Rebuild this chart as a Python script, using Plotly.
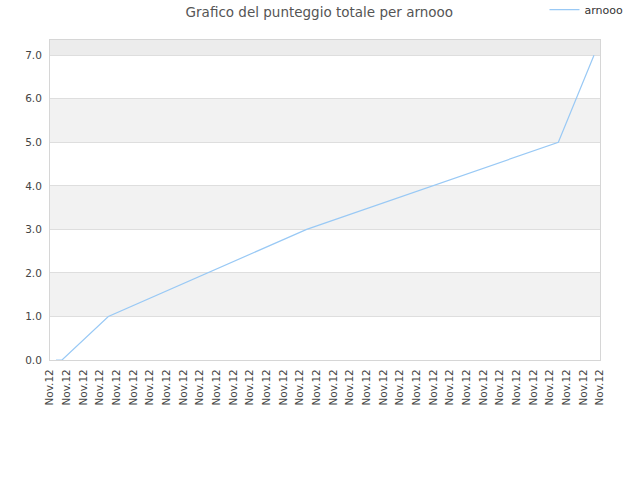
import plotly.graph_objects as go

# Category labels along the x axis
tick_labels = ["Nov.12"] * 34

# Series: positions along the category axis (in label-index units) and cumulative score
x_pos = [0.36, 0.72, 3.5, 15.4, 30.5, 32.64]
score = [0.0, 0.0, 1.0, 3.0, 5.0, 7.0]
series_name = "arnooo"

fig = go.Figure()
fig.add_trace(go.Scatter(
    x=x_pos, y=score, mode="lines", name=series_name,
    line=dict(color="#99c9f5", width=1.2),
    showlegend=True,
))

# alternating background bands
shapes = []
for lo in [1, 3, 5]:
    shapes.append(dict(type="rect", xref="paper", yref="y", x0=0, x1=1, y0=lo, y1=lo + 1,
                       fillcolor="#f2f2f2", line=dict(width=0), layer="below"))
shapes.append(dict(type="rect", xref="paper", yref="y", x0=0, x1=1, y0=7, y1=7.35,
                   fillcolor="#ececec", line=dict(width=0), layer="below"))

fig.update_layout(
    width=640, height=480,
    margin=dict(l=50, r=40, t=40, b=120, autoexpand=False),
    paper_bgcolor="white", plot_bgcolor="white",
    font=dict(family="DejaVu Sans", size=10.5, color="#444444"),
    title=dict(text="Grafico del punteggio totale per arnooo", x=0.499, xanchor="center",
               xref="container", yref="container",
               y=0.975, yanchor="middle", font=dict(size=13.5, color="#555555")),
    shapes=shapes,
    showlegend=True,
    legend=dict(xref="container", yref="container", x=0.982, xanchor="right",
                y=0.98, yanchor="middle", orientation="h",
                font=dict(size=11, color="#333333"), bgcolor="rgba(0,0,0,0)",
                itemwidth=30),
    xaxis=dict(range=[0, 33], tickmode="array", tickvals=list(range(len(tick_labels))),
               ticktext=tick_labels, tickangle=-90, showgrid=False, zeroline=False,
               showline=True, linecolor="#d6d6d6", linewidth=1, mirror=True, automargin=False,
               ticks="", ticklabelstandoff=4, tickfont=dict(size=10.5, color="#444444")),
    yaxis=dict(range=[0, 7.35], tickmode="array", tickvals=[0, 1, 2, 3, 4, 5, 6, 7],
               tickformat=".1f", showgrid=True, gridcolor="#dedede", gridwidth=1,
               zeroline=False, showline=True, linecolor="#d6d6d6", linewidth=1, mirror=True,
               automargin=False, ticks="", ticklabelstandoff=5,
               tickfont=dict(size=10.5, color="#444444")),
)

fig.write_html("out.html", config={"displayModeBar": False},
               post_script="document.body.style.margin='0';")
